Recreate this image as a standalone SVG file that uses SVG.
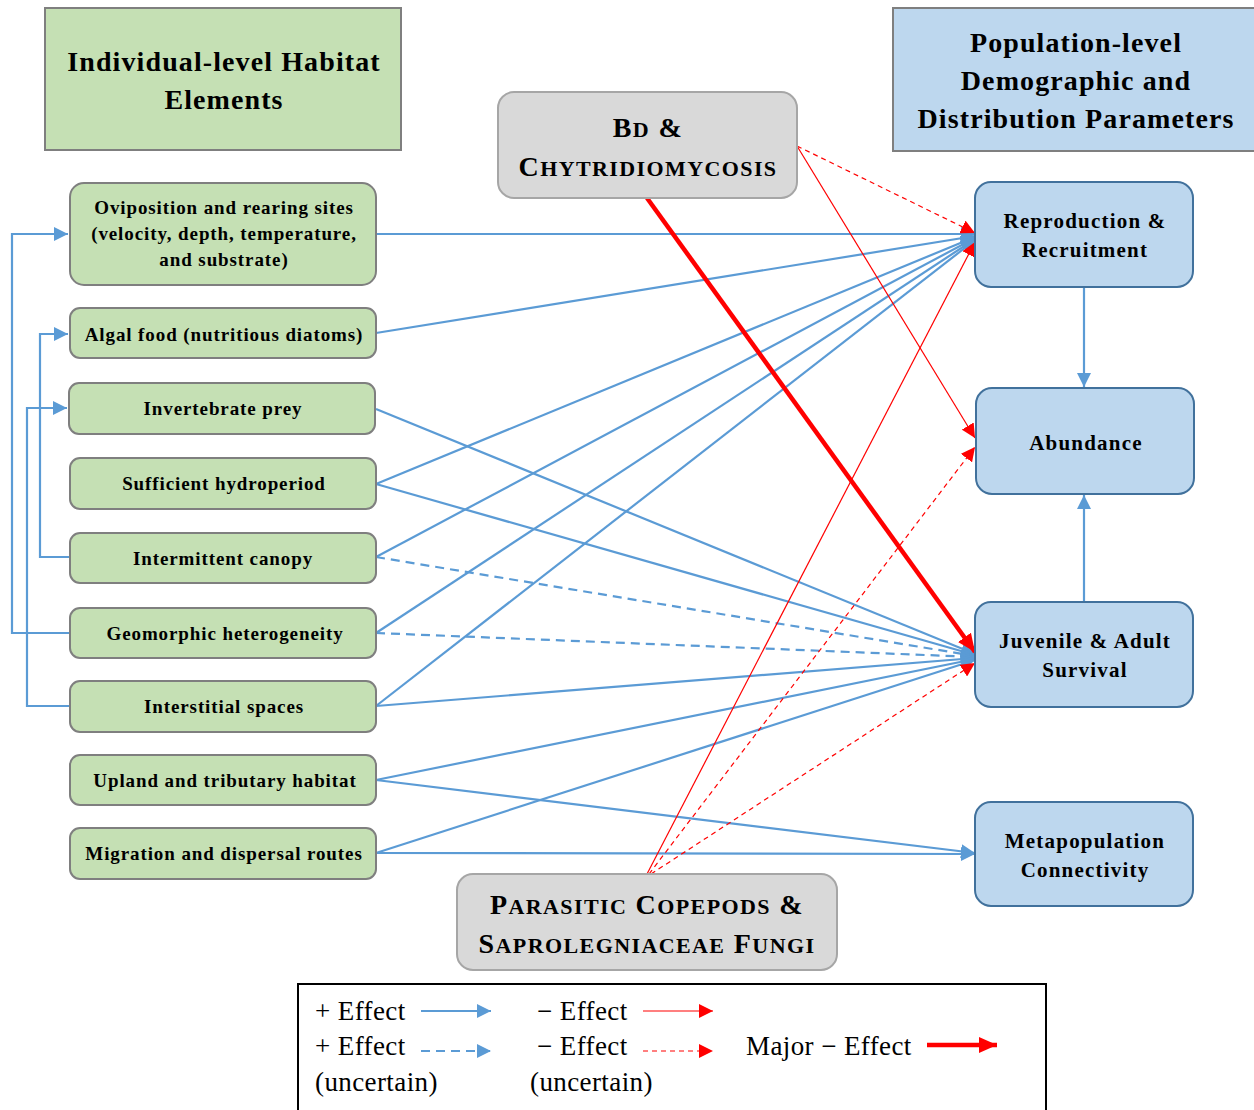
<svg xmlns="http://www.w3.org/2000/svg" width="1254" height="1110" viewBox="0 0 1254 1110">
<style>
.hdr{font-family:"Liberation Serif","Times New Roman",serif;font-weight:bold;font-size:28px;letter-spacing:1.1px;fill:#000;text-anchor:middle}
.nt{font-family:"Liberation Serif","Times New Roman",serif;font-weight:bold;font-size:19px;letter-spacing:0.9px;fill:#000;text-anchor:middle}
.rt{font-family:"Liberation Serif","Times New Roman",serif;font-weight:bold;font-size:21px;letter-spacing:1.2px;fill:#000;text-anchor:middle}
.sc{font-family:"Liberation Serif","Times New Roman",serif;font-weight:bold;font-size:28px;letter-spacing:1.4px;fill:#000;text-anchor:middle}
.sm{font-size:22px}
.lg{font-family:"Liberation Serif","Times New Roman",serif;font-size:27px;letter-spacing:0.4px;fill:#000}
.green{fill:#c5e0b4;stroke:#7f7f7f;stroke-width:2}
.blue{fill:#bdd7ee;stroke:#41719c;stroke-width:2}
.grey{fill:#d9d9d9;stroke:#a6a6a6;stroke-width:2}
.b{stroke:#5b9bd5;stroke-width:2.2;fill:none}
.bd{stroke:#5b9bd5;stroke-width:2.2;fill:none;stroke-dasharray:9 6}
.r{stroke:#ff0000;stroke-width:1.2;fill:none}
.rd{stroke:#ff0000;stroke-width:1.2;fill:none;stroke-dasharray:5 4}
.rm{stroke:#ff0000;stroke-width:4.5;fill:none}
</style>
<defs>
<marker id="ab" markerUnits="userSpaceOnUse" markerWidth="14" markerHeight="14" refX="14" refY="7" orient="auto"><path d="M0,0 L14,7 L0,14 z" fill="#5b9bd5"/></marker>
<marker id="ar" markerUnits="userSpaceOnUse" markerWidth="14" markerHeight="14" refX="14" refY="7" orient="auto"><path d="M0,0 L14,7 L0,14 z" fill="#ff0000"/></marker>
<marker id="arm" markerUnits="userSpaceOnUse" markerWidth="18" markerHeight="16" refX="18" refY="8" orient="auto"><path d="M0,0 L18,8 L0,16 z" fill="#ff0000"/></marker>
</defs>
<rect width="1254" height="1110" fill="#fff"/>

<g id="header-left">
<rect x="45" y="8" width="356" height="142" fill="#c5e0b4" stroke="#7f7f7f" stroke-width="2"/>
<text class="hdr" x="224" y="71">Individual-level Habitat</text>
<text class="hdr" x="224" y="109">Elements</text>
</g>
<g id="header-right">
<rect x="893" y="8" width="370" height="143" fill="#bdd7ee" stroke="#7f7f7f" stroke-width="2"/>
<text class="hdr" x="1076" y="52">Population-level</text>
<text class="hdr" x="1076" y="90">Demographic and</text>
<text class="hdr" x="1076" y="128">Distribution Parameters</text>
</g>

<g id="connectors">
<path class="b" d="M70,633 H12 V234 H68" marker-end="url(#ab)"/>
<path class="b" d="M70,557 H40 V334 H68" marker-end="url(#ab)"/>
<path class="b" d="M70,706 H27 V408 H67" marker-end="url(#ab)"/>
<line class="b" x1="1084" y1="287" x2="1084" y2="387" marker-end="url(#ab)"/>
<line class="b" x1="1084" y1="602" x2="1084" y2="495" marker-end="url(#ab)"/>
<line class="b" x1="376" y1="234" x2="975" y2="234" marker-end="url(#ab)"/>
<line class="b" x1="376" y1="333" x2="975" y2="236" marker-end="url(#ab)"/>
<line class="b" x1="376" y1="484" x2="975" y2="237" marker-end="url(#ab)"/>
<line class="b" x1="376" y1="557" x2="975" y2="238" marker-end="url(#ab)"/>
<line class="b" x1="376" y1="633" x2="975" y2="239" marker-end="url(#ab)"/>
<line class="b" x1="376" y1="706" x2="975" y2="240" marker-end="url(#ab)"/>
<line class="b" x1="376" y1="409" x2="975" y2="654" marker-end="url(#ab)"/>
<line class="b" x1="376" y1="484" x2="975" y2="655" marker-end="url(#ab)"/>
<line class="bd" x1="376" y1="557" x2="975" y2="656" marker-end="url(#ab)"/>
<line class="bd" x1="376" y1="633" x2="975" y2="657" marker-end="url(#ab)"/>
<line class="b" x1="376" y1="706" x2="975" y2="658" marker-end="url(#ab)"/>
<line class="b" x1="376" y1="780" x2="975" y2="659" marker-end="url(#ab)"/>
<line class="b" x1="376" y1="853" x2="975" y2="660" marker-end="url(#ab)"/>
<line class="b" x1="376" y1="780" x2="975" y2="853" marker-end="url(#ab)"/>
<line class="b" x1="376" y1="853" x2="975" y2="854" marker-end="url(#ab)"/>
<line class="rm" x1="647" y1="198" x2="975" y2="652" marker-end="url(#arm)"/>
<line class="r" x1="797" y1="146" x2="975" y2="438" marker-end="url(#ar)"/>
<line class="rd" x1="797" y1="146" x2="975" y2="233" marker-end="url(#ar)"/>
<line class="r" x1="647" y1="874" x2="975" y2="242" marker-end="url(#ar)"/>
<line class="rd" x1="649" y1="874" x2="975" y2="447" marker-end="url(#ar)"/>
<line class="rd" x1="651" y1="874" x2="975" y2="663" marker-end="url(#ar)"/>
</g>

<g id="n-oviposition"><rect class="green" x="70" y="183" width="306" height="102" rx="14"/>
<text class="nt" x="224" y="214">Oviposition and rearing sites</text>
<text class="nt" x="224" y="240">(velocity, depth, temperature,</text>
<text class="nt" x="224" y="266">and substrate)</text></g>
<g id="n-algal"><rect class="green" x="70" y="308" width="306" height="50" rx="10"/>
<text class="nt" x="224" y="341">Algal food (nutritious  diatoms)</text></g>
<g id="n-invertebrate"><rect class="green" x="69" y="383" width="306" height="51" rx="10"/>
<text class="nt" x="223" y="415">Invertebrate prey</text></g>
<g id="n-hydroperiod"><rect class="green" x="70" y="458" width="306" height="51" rx="10"/>
<text class="nt" x="224" y="490">Sufficient hydroperiod</text></g>
<g id="n-canopy"><rect class="green" x="70" y="533" width="306" height="50" rx="10"/>
<text class="nt" x="223" y="565">Intermittent  canopy</text></g>
<g id="n-geomorphic"><rect class="green" x="70" y="608" width="306" height="50" rx="10"/>
<text class="nt" x="225" y="640">Geomorphic heterogeneity</text></g>
<g id="n-interstitial"><rect class="green" x="70" y="681" width="306" height="51" rx="10"/>
<text class="nt" x="224" y="713">Interstitial spaces</text></g>
<g id="n-upland"><rect class="green" x="70" y="755" width="306" height="50" rx="10"/>
<text class="nt" x="225" y="787">Upland  and tributary  habitat</text></g>
<g id="n-migration"><rect class="green" x="70" y="828" width="306" height="51" rx="10"/>
<text class="nt" x="224" y="860">Migration and dispersal routes</text></g>

<g id="n-bd"><rect class="grey" x="498" y="92" width="299" height="106" rx="16"/>
<text class="sc" x="648" y="137">B<tspan class="sm">D</tspan> &amp;</text>
<text class="sc" x="648" y="176">C<tspan class="sm">HYTRIDIOMYCOSIS</tspan></text></g>
<g id="n-parasitic"><rect class="grey" x="457" y="874" width="380" height="96" rx="16"/>
<text class="sc" x="647" y="914">P<tspan class="sm">ARASITIC</tspan> C<tspan class="sm">OPEPODS</tspan> &amp;</text>
<text class="sc" x="647" y="953">S<tspan class="sm">APROLEGNIACEAE</tspan> F<tspan class="sm">UNGI</tspan></text></g>

<g id="n-reproduction"><rect class="blue" x="975" y="182" width="218" height="105" rx="16"/>
<text class="rt" x="1085" y="228">Reproduction &amp;</text>
<text class="rt" x="1085" y="257">Recruitment</text></g>
<g id="n-abundance"><rect class="blue" x="976" y="388" width="218" height="106" rx="16"/>
<text class="rt" x="1086" y="450">Abundance</text></g>
<g id="n-survival"><rect class="blue" x="975" y="602" width="218" height="105" rx="16"/>
<text class="rt" x="1085" y="648">Juvenile &amp; Adult</text>
<text class="rt" x="1085" y="677">Survival</text></g>
<g id="n-metapopulation"><rect class="blue" x="975" y="802" width="218" height="104" rx="16"/>
<text class="rt" x="1085" y="848">Metapopulation</text>
<text class="rt" x="1085" y="877">Connectivity</text></g>

<g id="legend">
<rect x="298" y="984" width="748" height="140" fill="#fff" stroke="#000" stroke-width="2"/>
<text class="lg" x="315" y="1020">+ Effect</text>
<line class="b" x1="421" y1="1011" x2="491" y2="1011" stroke-width="3" marker-end="url(#ab)"/>
<text class="lg" x="537" y="1020">− Effect</text>
<line class="r" x1="643" y1="1011" x2="713" y2="1011" marker-end="url(#ar)"/>
<text class="lg" x="315" y="1055">+ Effect</text>
<line class="bd" x1="421" y1="1051" x2="491" y2="1051" stroke-width="3" marker-end="url(#ab)"/>
<text class="lg" x="537" y="1055">− Effect</text>
<line class="rd" x1="643" y1="1051" x2="713" y2="1051" stroke-dasharray="3 2" marker-end="url(#ar)"/>
<text class="lg" x="746" y="1055">Major − Effect</text>
<line class="rm" x1="927" y1="1045" x2="997" y2="1045" marker-end="url(#arm)"/>
<text class="lg" x="315" y="1091">(uncertain)</text>
<text class="lg" x="530" y="1091">(uncertain)</text>
</g>
</svg>
